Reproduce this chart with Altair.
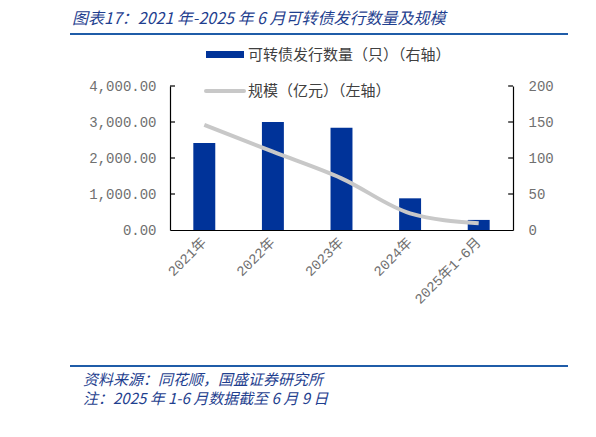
import altair as alt
import pandas as pd

# Data
categories = ["2021年", "2022年", "2023年", "2024年", "2025年1-6月"]
issue_count = [121, 150, 142, 44, 14]          # 可转债发行数量（只）, right axis
issue_amount = [2917, 2175, 1436, 464, 186]    # 规模（亿元）, left axis
left_ticks = [1000, 2000, 3000, 4000]
right_ticks = [50, 100, 150, 200]

TITLE = "图表17：2021 年-2025 年 6 月可转债发行数量及规模"
SOURCE = "资料来源：同花顺，国盛证券研究所"
NOTE = "注：2025 年 1-6 月数据截至 6 月 9 日"
LEG_BAR = "可转债发行数量（只）（右轴）"
LEG_LINE = "规模（亿元）（左轴）"

W, H = 343, 144
BAR_BLUE = "#003399"
LINE_GRAY = "#C8C8C8"
TEXT_BLUE = "#1F3F8F"
RULE_BLUE = "#1F5CA8"
LABEL_GRAY = "#707070"
CJK = "Noto Sans CJK SC"
NUM = "'Liberation Mono', 'Noto Sans CJK SC'"

df = pd.DataFrame({"期间": categories, "数量": issue_count, "规模": issue_amount})
one = pd.DataFrame({"k": [0]})

x_enc = alt.X(
    "期间:N",
    sort=categories,
    scale=alt.Scale(paddingInner=0.68, paddingOuter=0.34),
    axis=alt.Axis(
        title=None,
        labelAngle=-45,
        labelAlign="right",
        labelBaseline="middle",
        labelPadding=10,
        ticks=False,
        labelFont=NUM,
        labelFontSize=14,
        labelColor=LABEL_GRAY,
    ),
)

right_axis = alt.Axis(
    orient="right",
    title=None,
    values=[0] + right_ticks,
    format="d",
    ticks=False,
    labelPadding=15,
    labelFont=NUM,
    labelFontSize=14,
    labelColor=LABEL_GRAY,
)
left_axis = alt.Axis(
    orient="left",
    title=None,
    values=[0] + left_ticks,
    format=",.2f",
    ticks=False,
    labelPadding=14,
    labelFont=NUM,
    labelFontSize=14,
    labelColor=LABEL_GRAY,
)

# bars on the right axis
right_scale = alt.Scale(domain=[0, 200], nice=False)
bars = alt.Chart(df).mark_bar(color=BAR_BLUE).encode(
    x=x_enc,
    y=alt.Y("数量:Q", scale=right_scale, axis=right_axis),
)
rticks = (
    alt.Chart(pd.DataFrame({"数量": right_ticks}))
    .mark_rule(color="black", strokeWidth=1.2)
    .encode(y=alt.Y("数量:Q", scale=right_scale, axis=right_axis),
            x=alt.value(W - 5), x2=alt.value(W))
)

# line on the left axis
left_scale = alt.Scale(domain=[0, 4000], nice=False)
line = alt.Chart(df).mark_line(color=LINE_GRAY, strokeWidth=4, interpolate="monotone").encode(
    x=x_enc,
    y=alt.Y("规模:Q", scale=left_scale, axis=left_axis),
)
lticks = (
    alt.Chart(pd.DataFrame({"规模": left_ticks}))
    .mark_rule(color="black", strokeWidth=1.2)
    .encode(y=alt.Y("规模:Q", scale=left_scale, axis=left_axis),
            x=alt.value(0), x2=alt.value(5))
)

# legend drawn by hand
leg_rect = alt.Chart(one).mark_rect(color=BAR_BLUE).encode(
    x=alt.value(36), x2=alt.value(74), y=alt.value(-35), y2=alt.value(-28)
)
leg_line = alt.Chart(one).mark_rule(color=LINE_GRAY, strokeWidth=4, strokeCap="round").encode(
    x=alt.value(36), x2=alt.value(74), y=alt.value(5)
)
leg_text1 = alt.Chart(one).mark_text(
    text=LEG_BAR, align="left", baseline="middle", font=CJK, fontSize=15, color="#404040"
).encode(x=alt.value(78), y=alt.value(-31))
leg_text2 = alt.Chart(one).mark_text(
    text=LEG_LINE, align="left", baseline="middle", font=CJK, fontSize=15, color="#404040"
).encode(x=alt.value(78), y=alt.value(5))

# title, source and the blue rules
title = alt.Chart(one).mark_text(
    text=TITLE, align="left", baseline="middle", font=CJK, fontSize=16,
    fontStyle="italic", color=TEXT_BLUE,
).encode(x=alt.value(-98), y=alt.value(-67))
top_rule = alt.Chart(one).mark_rule(color=RULE_BLUE, strokeWidth=2).encode(
    x=alt.value(-100), x2=alt.value(398), y=alt.value(-52)
)
top_stub = alt.Chart(one).mark_rule(color=RULE_BLUE, strokeWidth=2).encode(
    x=alt.value(420), x2=alt.value(430), y=alt.value(-52)
)
bot_rule = alt.Chart(one).mark_rule(color=RULE_BLUE, strokeWidth=2).encode(
    x=alt.value(-100), x2=alt.value(398), y=alt.value(280)
)
bot_stub = alt.Chart(one).mark_rule(color=RULE_BLUE, strokeWidth=2).encode(
    x=alt.value(420), x2=alt.value(430), y=alt.value(280)
)
source = alt.Chart(one).mark_text(
    text=SOURCE, align="left", baseline="middle", font=CJK, fontSize=15,
    fontStyle="italic", color=TEXT_BLUE,
).encode(x=alt.value(-87), y=alt.value(294))
note = alt.Chart(one).mark_text(
    text=NOTE, align="left", baseline="middle", font=CJK, fontSize=15,
    fontStyle="italic", color=TEXT_BLUE,
).encode(x=alt.value(-87), y=alt.value(313))

chart = (
    alt.layer(
        alt.layer(bars, rticks),
        alt.layer(line, lticks),
        leg_rect, leg_line, leg_text1, leg_text2,
        title, top_rule, top_stub, bot_rule, bot_stub, source, note,
    )
    .resolve_scale(y="independent")
    .properties(
        width=W,
        height=H,
        autosize=alt.AutoSizeParams(type="none"),
        padding={"left": 162, "top": 78, "right": 70, "bottom": 190},
    )
    .configure_view(stroke=None)
    .configure_axis(domainColor="black", domainWidth=1.2, grid=False)
)

chart.save("out.html", embed_options={"renderer": "svg", "actions": False})
